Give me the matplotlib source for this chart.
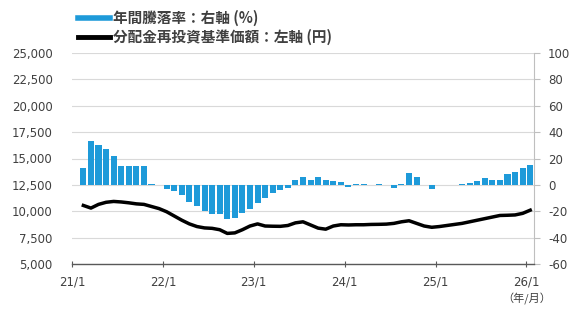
import matplotlib
matplotlib.use("Agg")
import matplotlib.pyplot as plt
from matplotlib.lines import Line2D
import numpy as np

# monthly data, 21/2 .. 26/1 (month index 1..60 counted from 21/1)
months = np.arange(1, 61)

# annual rate of change (%), right axis
annual_change = [
    13, 33, 30, 27, 22, 14, 14, 14, 14, 1,
    0, -3, -5, -7.5, -13, -16, -20, -22, -22, -26,
    -25, -21, -18, -14, -10, -6.5, -4, -2, 4, 6,
    4, 6, 4, 3, 2, -1.5, 1, 1, 0, 0.5,
    0, -2.5, 1, 9, 6, 0, -3, 0, 0, 0,
    0.5, 1.5, 3, 5, 4, 4, 8, 10, 13, 15,
]

# NAV with dividends reinvested (yen), left axis
nav_reinvested = [
    10550, 10300, 10650, 10850, 10930, 10880, 10800, 10700, 10650, 10450,
    10250, 9950, 9550, 9150, 8800, 8550, 8420, 8380, 8250, 7900,
    7950, 8250, 8600, 8800, 8600, 8580, 8570, 8650, 8900, 9000,
    8700, 8400, 8300, 8600, 8720, 8700, 8720, 8720, 8750, 8760,
    8780, 8850, 9000, 9100, 8850, 8600, 8480, 8550, 8650, 8750,
    8850, 9000, 9150, 9300, 9450, 9600, 9620, 9650, 9800, 10100,
]

tick_pos = [0, 12, 24, 36, 48, 60]
tick_labels = ["21/1", "22/1", "23/1", "24/1", "25/1", "26/1"]
left_ticks = np.arange(5000, 25001, 2500)
right_ticks = np.arange(-60, 101, 20)

BLUE = "#1E9AD9"
GREY_TXT = "#404040"
JP = ["Noto Sans CJK JP", "DejaVu Sans"]

plt.rcParams["font.family"] = "DejaVu Sans"

fig = plt.figure(figsize=(5.71, 3.11), dpi=100)
ax = fig.add_axes([72 / 571, 1 - 264 / 311, 462 / 571, (264 - 53) / 311])
ax2 = ax.twinx()

# bars + grid on the right-hand axis, line on top
ax2.set_axisbelow(True)
ax2.bar(months + 0.5, annual_change, width=0.8, color=BLUE, zorder=2)
ax2.set_ylim(-60, 100)
ax2.set_yticks(right_ticks)
ax2.set_yticklabels([str(v) for v in right_ticks])
ax2.grid(axis="y", color="#D9D9D9", linewidth=0.8, zorder=0)

ax.set_zorder(ax2.get_zorder() + 1)
ax.patch.set_visible(False)
ax.plot(months + 0.5, nav_reinvested, color="black", linewidth=2.5, zorder=3)
ax.set_ylim(5000, 25000)
ax.set_yticks(left_ticks)
ax.set_yticklabels([f"{v:,}" for v in left_ticks])
ax.set_xlim(0, 61)
ax.set_xticks(tick_pos)
ax.set_xticklabels(tick_labels)

for a in (ax, ax2):
    for s in ("top", "left", "right", "bottom"):
        a.spines[s].set_visible(False)
ax2.spines["right"].set_visible(True)
ax2.spines["right"].set_color("#BFBFBF")
ax.spines["bottom"].set_visible(True)
ax.spines["bottom"].set_color("#595959")
ax.spines["bottom"].set_linewidth(1.0)

ax.tick_params(axis="y", length=0, pad=14, labelsize=8.5, labelcolor=GREY_TXT)
ax.tick_params(axis="x", direction="inout", length=5, color="#595959",
               pad=6, labelsize=8.5, labelcolor=GREY_TXT)
ax2.tick_params(axis="y", direction="out", length=4, color="#BFBFBF",
                pad=6, labelsize=8.5, labelcolor=GREY_TXT)

# legend above the plot
handles = [Line2D([], [], color=BLUE, linewidth=4),
           Line2D([], [], color="black", linewidth=3.5)]
labels = ["年間騰落率：右軸 (%)", "分配金再投資基準価額：左軸 (円)"]
leg = fig.legend(handles, labels, loc="upper left",
                 bbox_to_anchor=(72 / 571, 1 - 4 / 311),
                 frameon=False, handlelength=2.2, handletextpad=0.2,
                 labelspacing=0.2, borderaxespad=0,
                 prop={"family": JP, "size": 10.5, "weight": "bold"})
for t in leg.get_texts():
    t.set_color(GREY_TXT)

fig.text(527 / 571, 1 - 299 / 311, "（年/月）", ha="center", va="center",
         family=JP, fontsize=8, color=GREY_TXT)

fig.savefig("out.png", dpi=100)
